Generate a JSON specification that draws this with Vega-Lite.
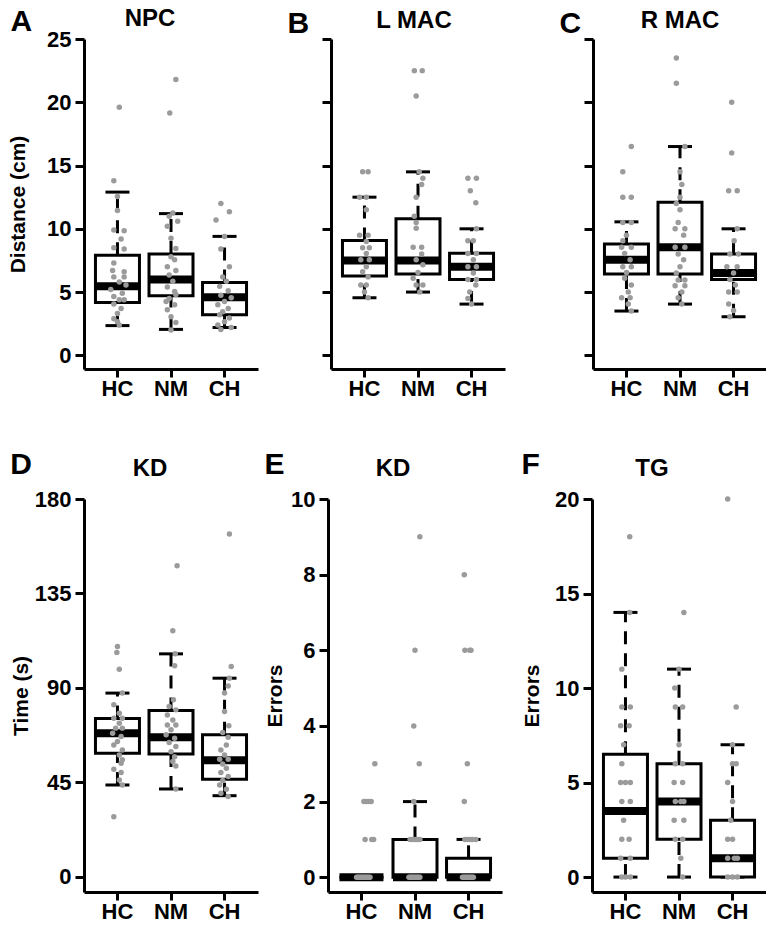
{
"$schema": "https://vega.github.io/schema/vega-lite/v6.json",
"background": "white",
"autosize": {"type": "pad"},
"padding": {"left": 7, "top": 7, "right": 0, "bottom": 0},
"config": {
 "font": "Liberation Sans",
 "view": {"stroke": null},
 "axis": {"domainColor": "black", "domainWidth": 3, "tickColor": "black", "tickWidth": 3, "tickSize": 9, "labelColor": "black", "labelFontWeight": "bold", "labelFontSize": 22, "labelPadding": 4, "titleFontWeight": "bold", "titleFontSize": 21, "titleColor": "black", "grid": false},
 "title": {"fontWeight": "bold", "fontSize": 24, "color": "black", "baseline": "alphabetic"}
},
"datasets": {
 "box": [
  {"p":"A","g":"HC","lo":2.35,"q1":4.17,"med":5.45,"q3":7.9,"hi":12.9},
  {"p":"A","g":"NM","lo":2.05,"q1":4.7,"med":6.0,"q3":8.0,"hi":11.2},
  {"p":"A","g":"CH","lo":2.2,"q1":3.2,"med":4.6,"q3":5.75,"hi":9.4},
  {"p":"B","g":"HC","lo":4.55,"q1":6.27,"med":7.5,"q3":9.07,"hi":12.5},
  {"p":"B","g":"NM","lo":5.0,"q1":6.43,"med":7.5,"q3":10.8,"hi":14.5},
  {"p":"B","g":"CH","lo":4.05,"q1":6.0,"med":7.0,"q3":8.07,"hi":10.0},
  {"p":"C","g":"HC","lo":3.5,"q1":6.43,"med":7.55,"q3":8.8,"hi":10.55},
  {"p":"C","g":"NM","lo":4.05,"q1":6.43,"med":8.55,"q3":12.1,"hi":16.5},
  {"p":"C","g":"CH","lo":3.05,"q1":6.0,"med":6.5,"q3":8.0,"hi":10.0},
  {"p":"D","g":"HC","lo":43.7,"q1":58.8,"med":68.4,"q3":75.4,"hi":87.5},
  {"p":"D","g":"NM","lo":41.8,"q1":58.5,"med":66.5,"q3":79.2,"hi":106.2},
  {"p":"D","g":"CH","lo":38.6,"q1":46.4,"med":55.5,"q3":67.6,"hi":94.6},
  {"p":"E","g":"HC","lo":0,"q1":0,"med":0,"q3":0,"hi":0},
  {"p":"E","g":"NM","lo":0,"q1":0,"med":0,"q3":1,"hi":2},
  {"p":"E","g":"CH","lo":0,"q1":0,"med":0,"q3":0.5,"hi":1},
  {"p":"F","g":"HC","lo":0,"q1":1,"med":3.5,"q3":6.5,"hi":14},
  {"p":"F","g":"NM","lo":0,"q1":2,"med":4,"q3":6,"hi":11},
  {"p":"F","g":"CH","lo":0,"q1":0,"med":1,"q3":3,"hi":7}
 ],
 "pts": [
  {"p":"A","g":"HC","v":19.6,"j":0.15},{"p":"A","g":"HC","v":13.8,"j":-0.3},{"p":"A","g":"HC","v":12.55,"j":0},{"p":"A","g":"HC","v":11.45,"j":0},{"p":"A","g":"HC","v":9.9,"j":-0.3},{"p":"A","g":"HC","v":9.85,"j":0.55},{"p":"A","g":"HC","v":9.2,"j":0.3},{"p":"A","g":"HC","v":8.5,"j":-0.3},{"p":"A","g":"HC","v":8.4,"j":0.55},{"p":"A","g":"HC","v":7.3,"j":-0.3},{"p":"A","g":"HC","v":6.7,"j":-0.4},{"p":"A","g":"HC","v":6.6,"j":0.55},{"p":"A","g":"HC","v":6.2,"j":-0.3},{"p":"A","g":"HC","v":6.2,"j":0.55},{"p":"A","g":"HC","v":5.8,"j":0.15},{"p":"A","g":"HC","v":5.55,"j":0.7},{"p":"A","g":"HC","v":5.2,"j":-0.55},{"p":"A","g":"HC","v":4.9,"j":0.4},{"p":"A","g":"HC","v":4.65,"j":-0.3},{"p":"A","g":"HC","v":4.4,"j":0.15},{"p":"A","g":"HC","v":4.4,"j":0.55},{"p":"A","g":"HC","v":4.05,"j":-0.3},{"p":"A","g":"HC","v":3.7,"j":0.3},{"p":"A","g":"HC","v":3.3,"j":0},{"p":"A","g":"HC","v":2.9,"j":-0.3},{"p":"A","g":"HC","v":2.65,"j":0},{"p":"A","g":"HC","v":2.4,"j":0.15},
  {"p":"A","g":"NM","v":21.8,"j":0.4},{"p":"A","g":"NM","v":19.15,"j":-0.1},{"p":"A","g":"NM","v":11.25,"j":0.15},{"p":"A","g":"NM","v":11.0,"j":-0.15},{"p":"A","g":"NM","v":10.6,"j":0.55},{"p":"A","g":"NM","v":10.2,"j":-0.3},{"p":"A","g":"NM","v":9.25,"j":0},{"p":"A","g":"NM","v":8.45,"j":0.4},{"p":"A","g":"NM","v":7.8,"j":0},{"p":"A","g":"NM","v":7.55,"j":0.3},{"p":"A","g":"NM","v":7.0,"j":-0.3},{"p":"A","g":"NM","v":6.7,"j":0.4},{"p":"A","g":"NM","v":6.35,"j":-0.15},{"p":"A","g":"NM","v":5.85,"j":0.15},{"p":"A","g":"NM","v":5.4,"j":-0.3},{"p":"A","g":"NM","v":5.05,"j":0.3},{"p":"A","g":"NM","v":4.8,"j":0.4},{"p":"A","g":"NM","v":4.5,"j":-0.15},{"p":"A","g":"NM","v":4.25,"j":-0.4},{"p":"A","g":"NM","v":4.0,"j":0.3},{"p":"A","g":"NM","v":3.6,"j":-0.3},{"p":"A","g":"NM","v":3.05,"j":0},{"p":"A","g":"NM","v":2.6,"j":0.4},{"p":"A","g":"NM","v":2.0,"j":0},
  {"p":"A","g":"CH","v":12.0,"j":-0.3},{"p":"A","g":"CH","v":11.35,"j":0.4},{"p":"A","g":"CH","v":10.7,"j":-0.7},{"p":"A","g":"CH","v":9.4,"j":0},{"p":"A","g":"CH","v":8.4,"j":-0.3},{"p":"A","g":"CH","v":7.0,"j":0.4},{"p":"A","g":"CH","v":6.2,"j":-0.15},{"p":"A","g":"CH","v":5.85,"j":0.15},{"p":"A","g":"CH","v":5.45,"j":-0.4},{"p":"A","g":"CH","v":5.1,"j":0.3},{"p":"A","g":"CH","v":4.75,"j":-0.3},{"p":"A","g":"CH","v":4.55,"j":0.55},{"p":"A","g":"CH","v":4.25,"j":0},{"p":"A","g":"CH","v":4.0,"j":-0.55},{"p":"A","g":"CH","v":3.7,"j":0.3},{"p":"A","g":"CH","v":3.45,"j":-0.15},{"p":"A","g":"CH","v":3.2,"j":-0.4},{"p":"A","g":"CH","v":2.95,"j":0.4},{"p":"A","g":"CH","v":2.65,"j":0},{"p":"A","g":"CH","v":2.4,"j":-0.55},{"p":"A","g":"CH","v":2.2,"j":0.55},{"p":"A","g":"CH","v":2.05,"j":-0.3},
  {"p":"B","g":"HC","v":14.5,"j":-0.15},{"p":"B","g":"HC","v":14.5,"j":0.3},{"p":"B","g":"HC","v":12.5,"j":-0.4},{"p":"B","g":"HC","v":12.5,"j":0.15},{"p":"B","g":"HC","v":11.5,"j":0.15},{"p":"B","g":"HC","v":9.5,"j":-0.4},{"p":"B","g":"HC","v":9.5,"j":0.3},{"p":"B","g":"HC","v":9.0,"j":0.15},{"p":"B","g":"HC","v":8.5,"j":-0.15},{"p":"B","g":"HC","v":8.5,"j":0.4},{"p":"B","g":"HC","v":8.05,"j":0.15},{"p":"B","g":"HC","v":7.55,"j":-0.3},{"p":"B","g":"HC","v":7.55,"j":0.4},{"p":"B","g":"HC","v":7.0,"j":0.15},{"p":"B","g":"HC","v":6.6,"j":-0.15},{"p":"B","g":"HC","v":6.2,"j":0.3},{"p":"B","g":"HC","v":5.55,"j":-0.3},{"p":"B","g":"HC","v":5.55,"j":0.15},{"p":"B","g":"HC","v":5.0,"j":0},{"p":"B","g":"HC","v":4.55,"j":0.3},
  {"p":"B","g":"NM","v":22.5,"j":-0.3},{"p":"B","g":"NM","v":22.5,"j":0.35},{"p":"B","g":"NM","v":20.5,"j":-0.15},{"p":"B","g":"NM","v":14.5,"j":0.1},{"p":"B","g":"NM","v":14.0,"j":0.4},{"p":"B","g":"NM","v":13.5,"j":0.3},{"p":"B","g":"NM","v":12.5,"j":-0.15},{"p":"B","g":"NM","v":11.0,"j":-0.3},{"p":"B","g":"NM","v":10.5,"j":-0.15},{"p":"B","g":"NM","v":10.05,"j":-0.15},{"p":"B","g":"NM","v":8.55,"j":-0.4},{"p":"B","g":"NM","v":8.55,"j":0.3},{"p":"B","g":"NM","v":8.0,"j":0.3},{"p":"B","g":"NM","v":7.55,"j":-0.15},{"p":"B","g":"NM","v":7.15,"j":0.4},{"p":"B","g":"NM","v":6.55,"j":0},{"p":"B","g":"NM","v":6.1,"j":-0.4},{"p":"B","g":"NM","v":5.55,"j":-0.15},{"p":"B","g":"NM","v":5.55,"j":0.4},{"p":"B","g":"NM","v":5.0,"j":0.15},
  {"p":"B","g":"CH","v":14.0,"j":-0.3},{"p":"B","g":"CH","v":14.0,"j":0.4},{"p":"B","g":"CH","v":13.0,"j":-0.1},{"p":"B","g":"CH","v":12.05,"j":0.35},{"p":"B","g":"CH","v":10.0,"j":0.4},{"p":"B","g":"CH","v":9.05,"j":-0.3},{"p":"B","g":"CH","v":9.05,"j":0.15},{"p":"B","g":"CH","v":8.05,"j":-0.3},{"p":"B","g":"CH","v":8.05,"j":0.4},{"p":"B","g":"CH","v":7.55,"j":0.15},{"p":"B","g":"CH","v":7.0,"j":-0.3},{"p":"B","g":"CH","v":7.0,"j":0.4},{"p":"B","g":"CH","v":6.5,"j":0.15},{"p":"B","g":"CH","v":6.0,"j":-0.3},{"p":"B","g":"CH","v":6.0,"j":0.4},{"p":"B","g":"CH","v":5.55,"j":0.35},{"p":"B","g":"CH","v":5.0,"j":-0.15},{"p":"B","g":"CH","v":4.5,"j":-0.3},{"p":"B","g":"CH","v":4.05,"j":0},
  {"p":"C","g":"HC","v":16.5,"j":0.4},{"p":"C","g":"HC","v":14.5,"j":-0.3},{"p":"C","g":"HC","v":12.5,"j":-0.3},{"p":"C","g":"HC","v":12.5,"j":0.4},{"p":"C","g":"HC","v":10.5,"j":-0.3},{"p":"C","g":"HC","v":10.5,"j":0.4},{"p":"C","g":"HC","v":9.5,"j":0},{"p":"C","g":"HC","v":9.05,"j":-0.3},{"p":"C","g":"HC","v":8.55,"j":-0.4},{"p":"C","g":"HC","v":8.55,"j":0.4},{"p":"C","g":"HC","v":8.05,"j":-0.15},{"p":"C","g":"HC","v":7.55,"j":0.3},{"p":"C","g":"HC","v":7.0,"j":-0.3},{"p":"C","g":"HC","v":7.0,"j":0.4},{"p":"C","g":"HC","v":6.55,"j":0},{"p":"C","g":"HC","v":6.1,"j":-0.15},{"p":"C","g":"HC","v":5.55,"j":0.4},{"p":"C","g":"HC","v":5.0,"j":0.15},{"p":"C","g":"HC","v":4.55,"j":-0.4},{"p":"C","g":"HC","v":4.55,"j":0.3},{"p":"C","g":"HC","v":4.05,"j":0.15},{"p":"C","g":"HC","v":3.5,"j":0.4},
  {"p":"C","g":"NM","v":23.5,"j":-0.3},{"p":"C","g":"NM","v":21.5,"j":-0.3},{"p":"C","g":"NM","v":16.5,"j":0.4},{"p":"C","g":"NM","v":14.5,"j":0},{"p":"C","g":"NM","v":13.5,"j":0.15},{"p":"C","g":"NM","v":12.5,"j":0},{"p":"C","g":"NM","v":12.0,"j":-0.3},{"p":"C","g":"NM","v":11.5,"j":0},{"p":"C","g":"NM","v":10.5,"j":-0.15},{"p":"C","g":"NM","v":10.0,"j":-0.4},{"p":"C","g":"NM","v":10.0,"j":0.4},{"p":"C","g":"NM","v":9.5,"j":0.3},{"p":"C","g":"NM","v":8.55,"j":-0.4},{"p":"C","g":"NM","v":8.55,"j":0.4},{"p":"C","g":"NM","v":8.0,"j":-0.15},{"p":"C","g":"NM","v":7.55,"j":0.3},{"p":"C","g":"NM","v":7.0,"j":0},{"p":"C","g":"NM","v":6.5,"j":-0.3},{"p":"C","g":"NM","v":5.95,"j":-0.15},{"p":"C","g":"NM","v":5.95,"j":0.4},{"p":"C","g":"NM","v":5.5,"j":-0.4},{"p":"C","g":"NM","v":5.5,"j":0.4},{"p":"C","g":"NM","v":5.0,"j":0.15},{"p":"C","g":"NM","v":4.55,"j":-0.15},{"p":"C","g":"NM","v":4.05,"j":0.15},
  {"p":"C","g":"CH","v":20.0,"j":-0.15},{"p":"C","g":"CH","v":16.0,"j":-0.15},{"p":"C","g":"CH","v":13.0,"j":-0.4},{"p":"C","g":"CH","v":13.0,"j":0.3},{"p":"C","g":"CH","v":10.0,"j":0.3},{"p":"C","g":"CH","v":9.05,"j":0.05},{"p":"C","g":"CH","v":8.0,"j":-0.3},{"p":"C","g":"CH","v":8.0,"j":0.4},{"p":"C","g":"CH","v":7.0,"j":-0.55},{"p":"C","g":"CH","v":7.0,"j":0.3},{"p":"C","g":"CH","v":6.5,"j":0},{"p":"C","g":"CH","v":6.0,"j":-0.3},{"p":"C","g":"CH","v":5.55,"j":0.15},{"p":"C","g":"CH","v":5.0,"j":-0.4},{"p":"C","g":"CH","v":5.0,"j":0.3},{"p":"C","g":"CH","v":4.05,"j":-0.4},{"p":"C","g":"CH","v":3.55,"j":0},{"p":"C","g":"CH","v":3.05,"j":-0.3},
  {"p":"D","g":"HC","v":109.7,"j":0},{"p":"D","g":"HC","v":106.9,"j":-0.05},{"p":"D","g":"HC","v":98.9,"j":0.15},{"p":"D","g":"HC","v":87.5,"j":0.4},{"p":"D","g":"HC","v":81.9,"j":-0.3},{"p":"D","g":"HC","v":77.9,"j":0.15},{"p":"D","g":"HC","v":75.5,"j":-0.3},{"p":"D","g":"HC","v":75.5,"j":0.4},{"p":"D","g":"HC","v":73.1,"j":0.15},{"p":"D","g":"HC","v":70.8,"j":-0.15},{"p":"D","g":"HC","v":70.8,"j":0.4},{"p":"D","g":"HC","v":68.4,"j":-0.4},{"p":"D","g":"HC","v":66.8,"j":0.3},{"p":"D","g":"HC","v":64.4,"j":0},{"p":"D","g":"HC","v":62.8,"j":-0.3},{"p":"D","g":"HC","v":60.4,"j":0.4},{"p":"D","g":"HC","v":58.0,"j":0.15},{"p":"D","g":"HC","v":55.7,"j":0.4},{"p":"D","g":"HC","v":54.1,"j":0.3},{"p":"D","g":"HC","v":51.2,"j":-0.3},{"p":"D","g":"HC","v":49.6,"j":0.3},{"p":"D","g":"HC","v":46.1,"j":0.15},{"p":"D","g":"HC","v":43.7,"j":0.4},{"p":"D","g":"HC","v":28.6,"j":-0.3},
  {"p":"D","g":"NM","v":148.2,"j":0.5},{"p":"D","g":"NM","v":117.2,"j":0.15},{"p":"D","g":"NM","v":106.2,"j":0.35},{"p":"D","g":"NM","v":100.5,"j":0.3},{"p":"D","g":"NM","v":84.3,"j":0.2},{"p":"D","g":"NM","v":81.1,"j":-0.15},{"p":"D","g":"NM","v":79.5,"j":0.4},{"p":"D","g":"NM","v":77.1,"j":-0.3},{"p":"D","g":"NM","v":74.7,"j":0.15},{"p":"D","g":"NM","v":72.3,"j":-0.3},{"p":"D","g":"NM","v":72.3,"j":0.4},{"p":"D","g":"NM","v":70.0,"j":0},{"p":"D","g":"NM","v":67.6,"j":-0.4},{"p":"D","g":"NM","v":66.0,"j":0.3},{"p":"D","g":"NM","v":63.9,"j":-0.15},{"p":"D","g":"NM","v":62.0,"j":0.4},{"p":"D","g":"NM","v":59.6,"j":0},{"p":"D","g":"NM","v":57.2,"j":0.3},{"p":"D","g":"NM","v":54.9,"j":0.15},{"p":"D","g":"NM","v":52.8,"j":0.4},{"p":"D","g":"NM","v":41.8,"j":0.4},
  {"p":"D","g":"CH","v":163.3,"j":0.4},{"p":"D","g":"CH","v":100.2,"j":0.55},{"p":"D","g":"CH","v":94.6,"j":0.4},{"p":"D","g":"CH","v":90.9,"j":0.3},{"p":"D","g":"CH","v":87.5,"j":0},{"p":"D","g":"CH","v":78.7,"j":0},{"p":"D","g":"CH","v":71.9,"j":0.35},{"p":"D","g":"CH","v":68.7,"j":-0.15},{"p":"D","g":"CH","v":66.5,"j":0.3},{"p":"D","g":"CH","v":62.8,"j":0.15},{"p":"D","g":"CH","v":60.4,"j":-0.3},{"p":"D","g":"CH","v":58.0,"j":0},{"p":"D","g":"CH","v":56.0,"j":-0.4},{"p":"D","g":"CH","v":56.0,"j":0.3},{"p":"D","g":"CH","v":53.7,"j":-0.15},{"p":"D","g":"CH","v":51.7,"j":0.15},{"p":"D","g":"CH","v":49.6,"j":-0.3},{"p":"D","g":"CH","v":47.7,"j":0.3},{"p":"D","g":"CH","v":45.8,"j":-0.15},{"p":"D","g":"CH","v":43.7,"j":-0.4},{"p":"D","g":"CH","v":41.7,"j":0.15},{"p":"D","g":"CH","v":39.8,"j":-0.3},{"p":"D","g":"CH","v":38.2,"j":0.3},
  {"p":"E","g":"HC","v":3,"j":1.1},{"p":"E","g":"HC","v":2,"j":0.2},{"p":"E","g":"HC","v":2,"j":0.4},{"p":"E","g":"HC","v":2,"j":0.6},{"p":"E","g":"HC","v":2,"j":0.8},{"p":"E","g":"HC","v":1,"j":0.3},{"p":"E","g":"HC","v":1,"j":0.85},{"p":"E","g":"HC","v":1,"j":1.0},{"p":"E","g":"HC","v":0,"j":-0.4},{"p":"E","g":"HC","v":0,"j":-0.3},{"p":"E","g":"HC","v":0,"j":-0.2},{"p":"E","g":"HC","v":0,"j":-0.1},{"p":"E","g":"HC","v":0,"j":0},{"p":"E","g":"HC","v":0,"j":0.1},{"p":"E","g":"HC","v":0,"j":0.2},{"p":"E","g":"HC","v":0,"j":0.3},{"p":"E","g":"HC","v":0,"j":0.4},{"p":"E","g":"HC","v":0,"j":0.5},{"p":"E","g":"HC","v":0,"j":0.6},{"p":"E","g":"HC","v":0,"j":0.7},
  {"p":"E","g":"NM","v":9,"j":0.4},{"p":"E","g":"NM","v":6,"j":0},{"p":"E","g":"NM","v":4,"j":-0.1},{"p":"E","g":"NM","v":3,"j":0.35},{"p":"E","g":"NM","v":2,"j":-0.1},{"p":"E","g":"NM","v":1,"j":-0.4},{"p":"E","g":"NM","v":1,"j":-0.2},{"p":"E","g":"NM","v":1,"j":0},{"p":"E","g":"NM","v":1,"j":0.2},{"p":"E","g":"NM","v":1,"j":0.4},{"p":"E","g":"NM","v":0,"j":-0.5},{"p":"E","g":"NM","v":0,"j":-0.4},{"p":"E","g":"NM","v":0,"j":-0.3},{"p":"E","g":"NM","v":0,"j":-0.2},{"p":"E","g":"NM","v":0,"j":-0.1},{"p":"E","g":"NM","v":0,"j":0},{"p":"E","g":"NM","v":0,"j":0.1},{"p":"E","g":"NM","v":0,"j":0.2},{"p":"E","g":"NM","v":0,"j":0.3},{"p":"E","g":"NM","v":0,"j":0.4},
  {"p":"E","g":"CH","v":8,"j":-0.35},{"p":"E","g":"CH","v":6,"j":-0.3},{"p":"E","g":"CH","v":6,"j":0.1},{"p":"E","g":"CH","v":6,"j":0.2},{"p":"E","g":"CH","v":3,"j":-0.1},{"p":"E","g":"CH","v":2,"j":-0.35},{"p":"E","g":"CH","v":1,"j":-0.3},{"p":"E","g":"CH","v":1,"j":-0.1},{"p":"E","g":"CH","v":1,"j":0.1},{"p":"E","g":"CH","v":1,"j":0.3},{"p":"E","g":"CH","v":1,"j":0.6},{"p":"E","g":"CH","v":0,"j":-0.5},{"p":"E","g":"CH","v":0,"j":-0.4},{"p":"E","g":"CH","v":0,"j":-0.3},{"p":"E","g":"CH","v":0,"j":-0.2},{"p":"E","g":"CH","v":0,"j":-0.1},{"p":"E","g":"CH","v":0,"j":0},{"p":"E","g":"CH","v":0,"j":0.1},{"p":"E","g":"CH","v":0,"j":0.2},{"p":"E","g":"CH","v":0,"j":0.3},{"p":"E","g":"CH","v":0,"j":0.4},
  {"p":"F","g":"HC","v":18,"j":0.35},{"p":"F","g":"HC","v":14,"j":0.35},{"p":"F","g":"HC","v":11,"j":-0.3},{"p":"F","g":"HC","v":9,"j":-0.3},{"p":"F","g":"HC","v":9,"j":0.4},{"p":"F","g":"HC","v":8,"j":-0.4},{"p":"F","g":"HC","v":8,"j":0.3},{"p":"F","g":"HC","v":7,"j":-0.15},{"p":"F","g":"HC","v":6,"j":-0.3},{"p":"F","g":"HC","v":5,"j":-0.4},{"p":"F","g":"HC","v":5,"j":0},{"p":"F","g":"HC","v":5,"j":0.4},{"p":"F","g":"HC","v":4,"j":-0.3},{"p":"F","g":"HC","v":4,"j":0.4},{"p":"F","g":"HC","v":3,"j":-0.15},{"p":"F","g":"HC","v":2,"j":-0.3},{"p":"F","g":"HC","v":2,"j":0.3},{"p":"F","g":"HC","v":1,"j":-0.4},{"p":"F","g":"HC","v":1,"j":0.4},{"p":"F","g":"HC","v":0,"j":-0.3},{"p":"F","g":"HC","v":0,"j":0},{"p":"F","g":"HC","v":0,"j":0.4},
  {"p":"F","g":"NM","v":14,"j":0.4},{"p":"F","g":"NM","v":11,"j":0},{"p":"F","g":"NM","v":10,"j":-0.35},{"p":"F","g":"NM","v":9,"j":-0.3},{"p":"F","g":"NM","v":9,"j":0.3},{"p":"F","g":"NM","v":7,"j":0},{"p":"F","g":"NM","v":6,"j":-0.3},{"p":"F","g":"NM","v":6,"j":0.3},{"p":"F","g":"NM","v":5,"j":-0.4},{"p":"F","g":"NM","v":5,"j":0.3},{"p":"F","g":"NM","v":4,"j":-0.3},{"p":"F","g":"NM","v":4,"j":0.15},{"p":"F","g":"NM","v":4,"j":0.4},{"p":"F","g":"NM","v":3,"j":-0.4},{"p":"F","g":"NM","v":3,"j":0.4},{"p":"F","g":"NM","v":2,"j":-0.3},{"p":"F","g":"NM","v":2,"j":0.3},{"p":"F","g":"NM","v":1,"j":0.15},{"p":"F","g":"NM","v":0,"j":0.3},
  {"p":"F","g":"CH","v":20,"j":-0.4},{"p":"F","g":"CH","v":9,"j":0.3},{"p":"F","g":"CH","v":7,"j":0},{"p":"F","g":"CH","v":6,"j":0},{"p":"F","g":"CH","v":6,"j":0.3},{"p":"F","g":"CH","v":5,"j":-0.4},{"p":"F","g":"CH","v":4,"j":0},{"p":"F","g":"CH","v":3,"j":-0.15},{"p":"F","g":"CH","v":2,"j":-0.4},{"p":"F","g":"CH","v":2,"j":0},{"p":"F","g":"CH","v":1,"j":-0.4},{"p":"F","g":"CH","v":1,"j":0.15},{"p":"F","g":"CH","v":1,"j":0.4},{"p":"F","g":"CH","v":0,"j":-0.4},{"p":"F","g":"CH","v":0,"j":0},{"p":"F","g":"CH","v":0,"j":0.4}
 ]
},
"vconcat": [
 {"spacing": 29, "hconcat": [
  {"title": {"text": "A", "anchor": "start", "fontSize": 30, "dx": 3, "dy": 34},
   "vconcat": [{
    "width": 174, "height": 330,
    "title": {"text": "NPC", "anchor": "middle", "frame": "group", "offset": -3, "dx": -21},
    "encoding": {"x": {"field": "g", "type": "nominal", "sort": ["HC","NM","CH"], "scale": {"paddingInner": 0, "paddingOuter": 0.125}, "axis": {"title": null, "labelAngle": 0, "tickSize": 8, "labelPadding": 1}}},
    "layer": [
     {"data": {"name": "box"}, "transform": [{"filter": "datum.p == 'A'"}], "mark": {"type": "rule", "strokeWidth": 3, "strokeDash": [13, 9], "color": "black"}, "encoding": {"y": {"field": "q3", "type": "quantitative", "title": "Distance (cm)", "scale": {"domain": [-1.08, 25], "nice": false, "zero": false}, "axis": {"values": [0,5,10,15,20,25], "title": "Distance (cm)", "titlePadding": 18}}, "y2": {"field": "hi"}}},
     {"data": {"name": "box"}, "transform": [{"filter": "datum.p == 'A'"}], "mark": {"type": "rule", "strokeWidth": 3, "strokeDash": [13, 9], "color": "black"}, "encoding": {"y": {"field": "lo", "type": "quantitative", "title": "Distance (cm)"}, "y2": {"field": "q1"}}},
     {"data": {"name": "box"}, "transform": [{"filter": "datum.p == 'A'"}, {"fold": ["lo", "hi"], "as": ["k", "val"]}], "mark": {"type": "tick", "color": "black", "thickness": 3, "size": 24, "opacity": 1}, "encoding": {"y": {"field": "val", "type": "quantitative", "title": "Distance (cm)"}}},
     {"data": {"name": "box"}, "transform": [{"filter": "datum.p == 'A'"}], "mark": {"type": "bar", "fill": "white", "stroke": "black", "strokeWidth": 3, "width": 44}, "encoding": {"y": {"field": "q1", "type": "quantitative", "title": "Distance (cm)"}, "y2": {"field": "q3"}}},
     {"data": {"name": "box"}, "transform": [{"filter": "datum.p == 'A'"}], "mark": {"type": "tick", "color": "black", "thickness": 8, "size": 44, "opacity": 1}, "encoding": {"y": {"field": "med", "type": "quantitative", "title": "Distance (cm)"}}},
     {"data": {"name": "pts"}, "transform": [{"filter": "datum.p == 'A'"}], "mark": {"type": "circle", "color": "#9b9b9b", "size": 30, "opacity": 1}, "encoding": {"y": {"field": "v", "type": "quantitative", "title": "Distance (cm)"}, "xOffset": {"field": "j", "type": "quantitative", "scale": {"domain": [-2.2, 2.2]}}}}
    ]
   }]
  },
  {"spacing": 54, "hconcat": [
   {"title": {"text": "B", "anchor": "start", "fontSize": 30, "dx": -33, "dy": 34},
    "vconcat": [{
     "width": 174, "height": 330,
     "title": {"text": "L MAC", "anchor": "middle", "frame": "group", "offset": 5, "dx": -4},
     "encoding": {"x": {"field": "g", "type": "nominal", "sort": ["HC","NM","CH"], "scale": {"paddingInner": 0, "paddingOuter": 0.125}, "axis": {"title": null, "labelAngle": 0, "tickSize": 8, "labelPadding": 1}}},
     "layer": [
      {"data": {"name": "box"}, "transform": [{"filter": "datum.p == 'B'"}], "mark": {"type": "rule", "strokeWidth": 3, "strokeDash": [13, 9], "color": "black"}, "encoding": {"y": {"field": "q3", "type": "quantitative", "title": null, "scale": {"domain": [-1.08, 25], "nice": false, "zero": false}, "axis": {"values": [0,5,10,15,20,25], "title": null, "labels": false}}, "y2": {"field": "hi"}}},
      {"data": {"name": "box"}, "transform": [{"filter": "datum.p == 'B'"}], "mark": {"type": "rule", "strokeWidth": 3, "strokeDash": [13, 9], "color": "black"}, "encoding": {"y": {"field": "lo", "type": "quantitative", "title": null}, "y2": {"field": "q1"}}},
      {"data": {"name": "box"}, "transform": [{"filter": "datum.p == 'B'"}, {"fold": ["lo", "hi"], "as": ["k", "val"]}], "mark": {"type": "tick", "color": "black", "thickness": 3, "size": 24, "opacity": 1}, "encoding": {"y": {"field": "val", "type": "quantitative", "title": null}}},
      {"data": {"name": "box"}, "transform": [{"filter": "datum.p == 'B'"}], "mark": {"type": "bar", "fill": "white", "stroke": "black", "strokeWidth": 3, "width": 44}, "encoding": {"y": {"field": "q1", "type": "quantitative", "title": null}, "y2": {"field": "q3"}}},
      {"data": {"name": "box"}, "transform": [{"filter": "datum.p == 'B'"}], "mark": {"type": "tick", "color": "black", "thickness": 8, "size": 44, "opacity": 1}, "encoding": {"y": {"field": "med", "type": "quantitative", "title": null}}},
      {"data": {"name": "pts"}, "transform": [{"filter": "datum.p == 'B'"}], "mark": {"type": "circle", "color": "#9b9b9b", "size": 30, "opacity": 1}, "encoding": {"y": {"field": "v", "type": "quantitative", "title": null}, "xOffset": {"field": "j", "type": "quantitative", "scale": {"domain": [-2.2, 2.2]}}}}
     ]
    }]
   },
   {"title": {"text": "C", "anchor": "start", "fontSize": 30, "dx": -23, "dy": 34},
    "vconcat": [{
     "width": 174, "height": 330,
     "title": {"text": "R MAC", "anchor": "middle", "frame": "group", "offset": 5, "dx": 0},
     "encoding": {"x": {"field": "g", "type": "nominal", "sort": ["HC","NM","CH"], "scale": {"paddingInner": 0, "paddingOuter": 0.125}, "axis": {"title": null, "labelAngle": 0, "tickSize": 8, "labelPadding": 1}}},
     "layer": [
      {"data": {"name": "box"}, "transform": [{"filter": "datum.p == 'C'"}], "mark": {"type": "rule", "strokeWidth": 3, "strokeDash": [13, 9], "color": "black"}, "encoding": {"y": {"field": "q3", "type": "quantitative", "title": null, "scale": {"domain": [-1.08, 25], "nice": false, "zero": false}, "axis": {"values": [0,5,10,15,20,25], "title": null, "labels": false}}, "y2": {"field": "hi"}}},
      {"data": {"name": "box"}, "transform": [{"filter": "datum.p == 'C'"}], "mark": {"type": "rule", "strokeWidth": 3, "strokeDash": [13, 9], "color": "black"}, "encoding": {"y": {"field": "lo", "type": "quantitative", "title": null}, "y2": {"field": "q1"}}},
      {"data": {"name": "box"}, "transform": [{"filter": "datum.p == 'C'"}, {"fold": ["lo", "hi"], "as": ["k", "val"]}], "mark": {"type": "tick", "color": "black", "thickness": 3, "size": 24, "opacity": 1}, "encoding": {"y": {"field": "val", "type": "quantitative", "title": null}}},
      {"data": {"name": "box"}, "transform": [{"filter": "datum.p == 'C'"}], "mark": {"type": "bar", "fill": "white", "stroke": "black", "strokeWidth": 3, "width": 44}, "encoding": {"y": {"field": "q1", "type": "quantitative", "title": null}, "y2": {"field": "q3"}}},
      {"data": {"name": "box"}, "transform": [{"filter": "datum.p == 'C'"}], "mark": {"type": "tick", "color": "black", "thickness": 8, "size": 44, "opacity": 1}, "encoding": {"y": {"field": "med", "type": "quantitative", "title": null}}},
      {"data": {"name": "pts"}, "transform": [{"filter": "datum.p == 'C'"}], "mark": {"type": "circle", "color": "#9b9b9b", "size": 30, "opacity": 1}, "encoding": {"y": {"field": "v", "type": "quantitative", "title": null}, "xOffset": {"field": "j", "type": "quantitative", "scale": {"domain": [-2.2, 2.2]}}}}
     ]
    }]
   }
  ]}
 ]},
 {"spacing": 6, "hconcat": [
  {"title": {"text": "D", "anchor": "start", "fontSize": 30, "dx": 0, "dy": 27},
   "vconcat": [{
    "width": 174, "height": 393,
    "title": {"text": "KD", "anchor": "middle", "frame": "group", "offset": 7, "dx": -21},
    "encoding": {"x": {"field": "g", "type": "nominal", "sort": ["HC","NM","CH"], "scale": {"paddingInner": 0, "paddingOuter": 0.125}, "axis": {"title": null, "labelAngle": 0, "tickSize": 8, "labelPadding": 1}}},
    "layer": [
     {"data": {"name": "box"}, "transform": [{"filter": "datum.p == 'D'"}], "mark": {"type": "rule", "strokeWidth": 3, "strokeDash": [13, 9], "color": "black"}, "encoding": {"y": {"field": "q3", "type": "quantitative", "title": "Time (s)", "scale": {"domain": [-7.3, 180], "nice": false, "zero": false}, "axis": {"values": [0,45,90,135,180], "title": "Time (s)", "titlePadding": 3}}, "y2": {"field": "hi"}}},
     {"data": {"name": "box"}, "transform": [{"filter": "datum.p == 'D'"}], "mark": {"type": "rule", "strokeWidth": 3, "strokeDash": [13, 9], "color": "black"}, "encoding": {"y": {"field": "lo", "type": "quantitative", "title": "Time (s)"}, "y2": {"field": "q1"}}},
     {"data": {"name": "box"}, "transform": [{"filter": "datum.p == 'D'"}, {"fold": ["lo", "hi"], "as": ["k", "val"]}], "mark": {"type": "tick", "color": "black", "thickness": 3, "size": 24, "opacity": 1}, "encoding": {"y": {"field": "val", "type": "quantitative", "title": "Time (s)"}}},
     {"data": {"name": "box"}, "transform": [{"filter": "datum.p == 'D'"}], "mark": {"type": "bar", "fill": "white", "stroke": "black", "strokeWidth": 3, "width": 44}, "encoding": {"y": {"field": "q1", "type": "quantitative", "title": "Time (s)"}, "y2": {"field": "q3"}}},
     {"data": {"name": "box"}, "transform": [{"filter": "datum.p == 'D'"}], "mark": {"type": "tick", "color": "black", "thickness": 8, "size": 44, "opacity": 1}, "encoding": {"y": {"field": "med", "type": "quantitative", "title": "Time (s)"}}},
     {"data": {"name": "pts"}, "transform": [{"filter": "datum.p == 'D'"}], "mark": {"type": "circle", "color": "#9b9b9b", "size": 30, "opacity": 1}, "encoding": {"y": {"field": "v", "type": "quantitative", "title": "Time (s)"}, "xOffset": {"field": "j", "type": "quantitative", "scale": {"domain": [-2.2, 2.2]}}}}
    ]
   }]
  },
  {"spacing": 19, "hconcat": [
   {"title": {"text": "E", "anchor": "start", "fontSize": 30, "dx": 0, "dy": 27},
    "vconcat": [{
     "width": 174, "height": 393,
     "title": {"text": "KD", "anchor": "middle", "frame": "group", "offset": 7, "dx": -22},
     "encoding": {"x": {"field": "g", "type": "nominal", "sort": ["HC","NM","CH"], "scale": {"paddingInner": 0, "paddingOuter": 0.125}, "axis": {"title": null, "labelAngle": 0, "tickSize": 8, "labelPadding": 1}}},
     "layer": [
      {"data": {"name": "box"}, "transform": [{"filter": "datum.p == 'E'"}], "mark": {"type": "rule", "strokeWidth": 3, "strokeDash": [13, 9], "color": "black"}, "encoding": {"y": {"field": "q3", "type": "quantitative", "title": "Errors", "scale": {"domain": [-0.39, 10], "nice": false, "zero": false}, "axis": {"values": [0,2,4,6,8,10], "title": "Errors", "titlePadding": 5}}, "y2": {"field": "hi"}}},
      {"data": {"name": "box"}, "transform": [{"filter": "datum.p == 'E'"}], "mark": {"type": "rule", "strokeWidth": 3, "strokeDash": [13, 9], "color": "black"}, "encoding": {"y": {"field": "lo", "type": "quantitative", "title": "Errors"}, "y2": {"field": "q1"}}},
      {"data": {"name": "box"}, "transform": [{"filter": "datum.p == 'E'"}, {"fold": ["lo", "hi"], "as": ["k", "val"]}], "mark": {"type": "tick", "color": "black", "thickness": 3, "size": 24, "opacity": 1}, "encoding": {"y": {"field": "val", "type": "quantitative", "title": "Errors"}}},
      {"data": {"name": "box"}, "transform": [{"filter": "datum.p == 'E'"}], "mark": {"type": "bar", "fill": "white", "stroke": "black", "strokeWidth": 3, "width": 44}, "encoding": {"y": {"field": "q1", "type": "quantitative", "title": "Errors"}, "y2": {"field": "q3"}}},
      {"data": {"name": "box"}, "transform": [{"filter": "datum.p == 'E'"}], "mark": {"type": "tick", "color": "black", "thickness": 8, "size": 44, "opacity": 1}, "encoding": {"y": {"field": "med", "type": "quantitative", "title": "Errors"}}},
      {"data": {"name": "pts"}, "transform": [{"filter": "datum.p == 'E'"}], "mark": {"type": "circle", "color": "#9b9b9b", "size": 30, "opacity": 1}, "encoding": {"y": {"field": "v", "type": "quantitative", "title": "Errors"}, "xOffset": {"field": "j", "type": "quantitative", "scale": {"domain": [-2.2, 2.2]}}}}
     ]
    }]
   },
   {"title": {"text": "F", "anchor": "start", "fontSize": 30, "dx": 0, "dy": 27},
    "vconcat": [{
     "width": 174, "height": 393,
     "title": {"text": "TG", "anchor": "middle", "frame": "group", "offset": 7, "dx": -27},
     "encoding": {"x": {"field": "g", "type": "nominal", "sort": ["HC","NM","CH"], "scale": {"paddingInner": 0, "paddingOuter": 0.125}, "axis": {"title": null, "labelAngle": 0, "tickSize": 8, "labelPadding": 1}}},
     "layer": [
      {"data": {"name": "box"}, "transform": [{"filter": "datum.p == 'F'"}], "mark": {"type": "rule", "strokeWidth": 3, "strokeDash": [13, 9], "color": "black"}, "encoding": {"y": {"field": "q3", "type": "quantitative", "title": "Errors", "scale": {"domain": [-0.79, 20], "nice": false, "zero": false}, "axis": {"values": [0,5,10,15,20], "title": "Errors", "titlePadding": 12}}, "y2": {"field": "hi"}}},
      {"data": {"name": "box"}, "transform": [{"filter": "datum.p == 'F'"}], "mark": {"type": "rule", "strokeWidth": 3, "strokeDash": [13, 9], "color": "black"}, "encoding": {"y": {"field": "lo", "type": "quantitative", "title": "Errors"}, "y2": {"field": "q1"}}},
      {"data": {"name": "box"}, "transform": [{"filter": "datum.p == 'F'"}, {"fold": ["lo", "hi"], "as": ["k", "val"]}], "mark": {"type": "tick", "color": "black", "thickness": 3, "size": 24, "opacity": 1}, "encoding": {"y": {"field": "val", "type": "quantitative", "title": "Errors"}}},
      {"data": {"name": "box"}, "transform": [{"filter": "datum.p == 'F'"}], "mark": {"type": "bar", "fill": "white", "stroke": "black", "strokeWidth": 3, "width": 44}, "encoding": {"y": {"field": "q1", "type": "quantitative", "title": "Errors"}, "y2": {"field": "q3"}}},
      {"data": {"name": "box"}, "transform": [{"filter": "datum.p == 'F'"}], "mark": {"type": "tick", "color": "black", "thickness": 8, "size": 44, "opacity": 1}, "encoding": {"y": {"field": "med", "type": "quantitative", "title": "Errors"}}},
      {"data": {"name": "pts"}, "transform": [{"filter": "datum.p == 'F'"}], "mark": {"type": "circle", "color": "#9b9b9b", "size": 30, "opacity": 1}, "encoding": {"y": {"field": "v", "type": "quantitative", "title": "Errors"}, "xOffset": {"field": "j", "type": "quantitative", "scale": {"domain": [-2.2, 2.2]}}}}
     ]
    }]
   }
  ]}
 ]}
],
"spacing": 51
}
